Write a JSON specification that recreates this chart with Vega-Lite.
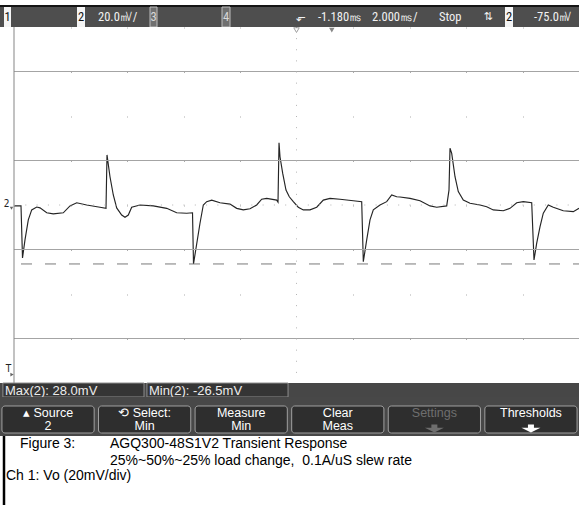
{
  "$schema": "https://vega.github.io/schema/vega-lite/v6.json",
  "padding": {"top": 5, "left": 0, "right": 0, "bottom": 0},
  "background": "white",
  "spacing": 0,
  "bounds": "flush",
  "config": {"view": {"stroke": null}, "concat": {"spacing": 0}},
  "vconcat": [
    {
      "width": 579, "height": 2,
      "data": {"values": [{"part": "screen border"}]},
      "mark": {"type": "rect", "color": "#151515"}
    },
    {
      "width": 579, "height": 20,
      "view": {"fill": "#4e4e4e"},
      "data": {"values": [{"ch1": "1", "ch2": "2", "ch2_scale": "20.0㎷/", "ch3": "3", "ch4": "4", "trig_icon": "⬐", "delay": "-1.180㎳", "timebase": "2.000㎳/", "mode": "Stop", "slope": "⇅", "trig_src": "2", "trig_level": "-75.0㎷"}]},
      "layer": [
        {"mark": {"type": "rect", "fill": "#f4f4f4"}, "encoding": {"x": {"datum": 4, "type": "quantitative", "scale": {"domain": [0, 579], "nice": false, "zero": false}, "axis": null}, "x2": {"datum": 11}}},
        {"mark": {"type": "text", "color": "#111111", "fontSize": 12.5, "font": "Liberation Sans Narrow, Roboto Condensed, DejaVu Sans Condensed, Arial Narrow, sans-serif", "baseline": "middle"}, "encoding": {"x": {"datum": 7.5}, "text": {"field": "ch1"}}},
        {"mark": {"type": "rect", "fill": "#f4f4f4"}, "encoding": {"x": {"datum": 77}, "x2": {"datum": 85}}},
        {"mark": {"type": "text", "color": "#111111", "fontSize": 12.5, "font": "Liberation Sans Narrow, Roboto Condensed, DejaVu Sans Condensed, Arial Narrow, sans-serif", "baseline": "middle"}, "encoding": {"x": {"datum": 81}, "text": {"field": "ch2"}}},
        {"mark": {"type": "text", "color": "#f2f2f2", "fontSize": 12.5, "align": "left", "font": "Liberation Sans Narrow, Roboto Condensed, DejaVu Sans Condensed, Arial Narrow, sans-serif", "baseline": "middle"}, "encoding": {"x": {"datum": 98}, "text": {"field": "ch2_scale"}}},
        {"mark": {"type": "rect", "fill": "#707070", "stroke": "#bdbdbd", "strokeWidth": 1}, "encoding": {"x": {"datum": 150}, "x2": {"datum": 157}}},
        {"mark": {"type": "text", "color": "#d8d8d8", "fontSize": 12.5, "font": "Liberation Sans Narrow, Roboto Condensed, DejaVu Sans Condensed, Arial Narrow, sans-serif", "baseline": "middle"}, "encoding": {"x": {"datum": 153.5}, "text": {"field": "ch3"}}},
        {"mark": {"type": "rect", "fill": "#707070", "stroke": "#bdbdbd", "strokeWidth": 1}, "encoding": {"x": {"datum": 222}, "x2": {"datum": 230}}},
        {"mark": {"type": "text", "color": "#d8d8d8", "fontSize": 12.5, "font": "Liberation Sans Narrow, Roboto Condensed, DejaVu Sans Condensed, Arial Narrow, sans-serif", "baseline": "middle"}, "encoding": {"x": {"datum": 226}, "text": {"field": "ch4"}}},
        {"mark": {"type": "text", "color": "#f2f2f2", "fontSize": 12, "font": "DejaVu Sans, sans-serif", "baseline": "middle"}, "encoding": {"x": {"datum": 301}, "text": {"field": "trig_icon"}}},
        {"mark": {"type": "text", "color": "#f2f2f2", "fontSize": 12.5, "align": "left", "font": "Liberation Sans Narrow, Roboto Condensed, DejaVu Sans Condensed, Arial Narrow, sans-serif", "baseline": "middle"}, "encoding": {"x": {"datum": 318}, "text": {"field": "delay"}}},
        {"mark": {"type": "text", "color": "#f2f2f2", "fontSize": 12.5, "align": "left", "font": "Liberation Sans Narrow, Roboto Condensed, DejaVu Sans Condensed, Arial Narrow, sans-serif", "baseline": "middle"}, "encoding": {"x": {"datum": 372}, "text": {"field": "timebase"}}},
        {"mark": {"type": "text", "color": "#f2f2f2", "fontSize": 12.5, "align": "left", "font": "Liberation Sans Narrow, Roboto Condensed, DejaVu Sans Condensed, Arial Narrow, sans-serif", "baseline": "middle"}, "encoding": {"x": {"datum": 439}, "text": {"field": "mode"}}},
        {"mark": {"type": "text", "color": "#f2f2f2", "fontSize": 11, "font": "DejaVu Sans, sans-serif", "baseline": "middle"}, "encoding": {"x": {"datum": 488}, "text": {"field": "slope"}}},
        {"mark": {"type": "rect", "fill": "#f4f4f4"}, "encoding": {"x": {"datum": 505}, "x2": {"datum": 513}}},
        {"mark": {"type": "text", "color": "#111111", "fontSize": 12.5, "font": "Liberation Sans Narrow, Roboto Condensed, DejaVu Sans Condensed, Arial Narrow, sans-serif", "baseline": "middle"}, "encoding": {"x": {"datum": 509}, "text": {"field": "trig_src"}}},
        {"mark": {"type": "text", "color": "#f2f2f2", "fontSize": 12.5, "align": "left", "font": "Liberation Sans Narrow, Roboto Condensed, DejaVu Sans Condensed, Arial Narrow, sans-serif", "baseline": "middle"}, "encoding": {"x": {"datum": 534}, "text": {"field": "trig_level"}}}
      ]
    },
    {
      "width": 579, "height": 356,
      "view": {"fill": "white"},
      "layer": [
        {
          "data": {"values": [
            {"time_ms": -10, "vo_mV": -0.4}, {"time_ms": -9.752, "vo_mV": -0.4}, {"time_ms": -9.699, "vo_mV": -23.8}, {"time_ms": -9.611, "vo_mV": -15.7},
            {"time_ms": -9.494, "vo_mV": -6.7}, {"time_ms": -9.373, "vo_mV": -2.2}, {"time_ms": -9.196, "vo_mV": -0.9}, {"time_ms": -9.08, "vo_mV": -1.3},
            {"time_ms": -8.842, "vo_mV": -3.5}, {"time_ms": -8.609, "vo_mV": -4.0}, {"time_ms": -8.255, "vo_mV": -3.5}, {"time_ms": -8.018, "vo_mV": -0.4},
            {"time_ms": -7.781, "vo_mV": 1.0}, {"time_ms": -7.427, "vo_mV": 0}, {"time_ms": -6.956, "vo_mV": -1.0}, {"time_ms": -6.743, "vo_mV": -1.5},
            {"time_ms": -6.708, "vo_mV": 22.5}, {"time_ms": -6.602, "vo_mV": 12.7}, {"time_ms": -6.485, "vo_mV": 4.5}, {"time_ms": -6.365, "vo_mV": -1.3},
            {"time_ms": -6.188, "vo_mV": -4.5}, {"time_ms": -6.071, "vo_mV": -5.5}, {"time_ms": -5.954, "vo_mV": -4.5}, {"time_ms": -5.834, "vo_mV": -1.0},
            {"time_ms": -5.54, "vo_mV": 0}, {"time_ms": -5.069, "vo_mV": -0.4}, {"time_ms": -4.595, "vo_mV": -1.5}, {"time_ms": -4.241, "vo_mV": -3.5},
            {"time_ms": -3.887, "vo_mV": -3.7}, {"time_ms": -3.681, "vo_mV": -3.5}, {"time_ms": -3.646, "vo_mV": -26.5}, {"time_ms": -3.416, "vo_mV": -8.2},
            {"time_ms": -3.299, "vo_mV": 0}, {"time_ms": -3.179, "vo_mV": 1.5}, {"time_ms": -3.002, "vo_mV": 2.2}, {"time_ms": -2.708, "vo_mV": 1.0},
            {"time_ms": -2.354, "vo_mV": 0.4}, {"time_ms": -2.117, "vo_mV": -1.5}, {"time_ms": -1.883, "vo_mV": -2.2}, {"time_ms": -1.646, "vo_mV": -1.7},
            {"time_ms": -1.409, "vo_mV": 0}, {"time_ms": -1.232, "vo_mV": 2.6}, {"time_ms": -1.055, "vo_mV": 3.0}, {"time_ms": -0.701, "vo_mV": 2.2},
            {"time_ms": -0.655, "vo_mV": 1.3}, {"time_ms": -0.619, "vo_mV": 28.0}, {"time_ms": -0.584, "vo_mV": 21.7}, {"time_ms": -0.488, "vo_mV": 14.2},
            {"time_ms": -0.372, "vo_mV": 6.7}, {"time_ms": -0.255, "vo_mV": 3.7}, {"time_ms": -0.113, "vo_mV": 1.5}, {"time_ms": 0.064, "vo_mV": -1.0},
            {"time_ms": 0.241, "vo_mV": -2.2}, {"time_ms": 0.478, "vo_mV": -2.2}, {"time_ms": 0.715, "vo_mV": -1.0}, {"time_ms": 0.949, "vo_mV": 2.2},
            {"time_ms": 1.186, "vo_mV": 3.0}, {"time_ms": 1.54, "vo_mV": 2.6}, {"time_ms": 2.011, "vo_mV": 1.9}, {"time_ms": 2.308, "vo_mV": 1.5},
            {"time_ms": 2.365, "vo_mV": -25.5}, {"time_ms": 2.485, "vo_mV": -15.7}, {"time_ms": 2.602, "vo_mV": -6.7}, {"time_ms": 2.719, "vo_mV": -2.2},
            {"time_ms": 2.956, "vo_mV": 0}, {"time_ms": 3.193, "vo_mV": 1.5}, {"time_ms": 3.37, "vo_mV": 4.5}, {"time_ms": 3.547, "vo_mV": 3.7},
            {"time_ms": 3.664, "vo_mV": 3.6}, {"time_ms": 4.018, "vo_mV": 3.0}, {"time_ms": 4.372, "vo_mV": 1.9}, {"time_ms": 4.726, "vo_mV": -0.4},
            {"time_ms": 4.963, "vo_mV": -1.0}, {"time_ms": 5.317, "vo_mV": -0.4}, {"time_ms": 5.398, "vo_mV": 6.7}, {"time_ms": 5.434, "vo_mV": 25.5},
            {"time_ms": 5.494, "vo_mV": 23.2}, {"time_ms": 5.611, "vo_mV": 12.7}, {"time_ms": 5.727, "vo_mV": 6.0}, {"time_ms": 5.904, "vo_mV": 2.2},
            {"time_ms": 6.142, "vo_mV": 0.8}, {"time_ms": 6.496, "vo_mV": 0}, {"time_ms": 6.733, "vo_mV": -0.8}, {"time_ms": 6.966, "vo_mV": -2.2},
            {"time_ms": 7.32, "vo_mV": -2.6}, {"time_ms": 7.558, "vo_mV": -1.5}, {"time_ms": 7.795, "vo_mV": 1.0}, {"time_ms": 8.028, "vo_mV": 1.5},
            {"time_ms": 8.326, "vo_mV": 1.0}, {"time_ms": 8.407, "vo_mV": -24.7}, {"time_ms": 8.503, "vo_mV": -17.1}, {"time_ms": 8.619, "vo_mV": -9.8},
            {"time_ms": 8.736, "vo_mV": -3.7}, {"time_ms": 8.913, "vo_mV": 0}, {"time_ms": 9.09, "vo_mV": -1.0}, {"time_ms": 9.444, "vo_mV": -2.6},
            {"time_ms": 9.798, "vo_mV": -3.0}, {"time_ms": 10, "vo_mV": -1.5}
          ]},
          "mark": {"type": "line", "color": "#242424", "strokeWidth": 1.15},
          "encoding": {
            "x": {"field": "time_ms", "type": "quantitative", "scale": {"domain": [-10.4956, 10], "nice": false, "zero": false}, "axis": {"values": [-8, -6, -4, -2, 2, 4, 6, 8], "title": null, "labels": false, "ticks": false, "domain": false, "grid": true, "gridColor": "#acacac", "gridDash": [1, 43.5]}},
            "y": {"field": "vo_mV", "type": "quantitative", "scale": {"domain": [-80, 80], "nice": false, "zero": false}, "axis": null}
          }
        },
        {"data": {"values": [{"graticule_mV": 60}, {"graticule_mV": 20}, {"graticule_mV": -20}, {"graticule_mV": -60}]}, "mark": {"type": "rule", "color": "#a4a4a4", "strokeWidth": 1}, "encoding": {"y": {"field": "graticule_mV", "type": "quantitative"}, "x": {"datum": -10}, "x2": {"datum": 10}}},
        {"data": {"values": [{"line": "left edge"}]}, "mark": {"type": "rule", "color": "#858585", "strokeWidth": 1}, "encoding": {"x": {"datum": -10}}},
        {"data": {"values": [{"line": "time reference"}]}, "mark": {"type": "rule", "color": "#b4b4b4", "strokeDash": [1, 10.125]}, "encoding": {"x": {"datum": 0}}},
        {"data": {"values": [{"line": "ground reference"}]}, "mark": {"type": "rule", "color": "#b4b4b4", "strokeDash": [1, 10.3]}, "encoding": {"y": {"datum": 0}, "x": {"datum": -10}, "x2": {"datum": 10}}},
        {"data": {"values": [{"measurement": "Min(2)", "mV": -26.5}]}, "mark": {"type": "rule", "color": "#7a7a7a", "strokeDash": [11, 13], "strokeDashOffset": 17}, "encoding": {"y": {"field": "mV", "type": "quantitative"}, "x": {"datum": -10}, "x2": {"datum": 10}}},
        {"data": {"values": [{"marker": "time reference"}]}, "mark": {"type": "point", "shape": "triangle-down", "filled": false, "size": 30, "color": "#777777", "strokeWidth": 1}, "encoding": {"x": {"datum": 0}, "y": {"datum": 78.6}}},
        {"data": {"values": [{"marker": "delay"}]}, "mark": {"type": "point", "shape": "triangle-down", "filled": true, "size": 30, "color": "#555555"}, "encoding": {"x": {"datum": 1.25}, "y": {"datum": 78.6}}},
        {"data": {"values": [{"marker": "ground", "label": "2"}]}, "mark": {"type": "text", "fontSize": 10, "color": "#222222", "baseline": "middle", "font": "Liberation Sans Narrow, DejaVu Sans Condensed, sans-serif"}, "encoding": {"x": {"datum": -10.265}, "y": {"datum": 0.5}, "text": {"field": "label"}}},
        {"data": {"values": [{"marker": "ground arrow"}]}, "mark": {"type": "point", "shape": "triangle-down", "filled": true, "size": 12, "color": "#222222"}, "encoding": {"x": {"datum": -10.088}, "y": {"datum": -1.5}}},
        {"data": {"values": [{"marker": "trigger level", "label": "T"}]}, "mark": {"type": "text", "fontSize": 10, "color": "#222222", "baseline": "middle", "font": "Liberation Sans Narrow, DejaVu Sans Condensed, sans-serif"}, "encoding": {"x": {"datum": -10.195}, "y": {"datum": -73.5}, "text": {"field": "label"}}},
        {"data": {"values": [{"marker": "trigger arrow"}]}, "mark": {"type": "point", "shape": "triangle-right", "filled": true, "size": 14, "color": "#222222"}, "encoding": {"x": {"datum": -10.071}, "y": {"datum": -76.2}}}
      ]
    },
    {
      "width": 579, "height": 14,
      "view": {"fill": "#474747"},
      "data": {"values": [{"slot": "Max", "readout": "Max(2): 28.0mV"}, {"slot": "Min", "readout": "Min(2): -26.5mV"}]},
      "encoding": {"x": {"field": "slot", "type": "nominal", "scale": {"domain": ["Max", "Min", "3", "4"], "paddingInner": 0.02, "paddingOuter": 0.02}, "axis": null}},
      "layer": [
        {"mark": {"type": "rect", "fill": "#353535", "stroke": "#8e8e8e", "strokeWidth": 1}},
        {"mark": {"type": "text", "align": "left", "dx": 2, "dy": 0.5, "baseline": "middle", "color": "#ececec", "fontSize": 13, "font": "Liberation Sans, Arial, sans-serif"}, "encoding": {"x": {"field": "slot", "type": "nominal", "bandPosition": 0}, "text": {"field": "readout"}}}
      ]
    },
    {
      "width": 579, "height": 39,
      "view": {"fill": "#484848"},
      "data": {"values": [
        {"button": "Source", "line1": "▴   Source", "line2": "2", "arrow": false, "enabled": true},
        {"button": "Select", "line1": "⟲ Select:", "line2": "Min", "arrow": false, "enabled": true},
        {"button": "Measure", "line1": "Measure", "line2": "Min", "arrow": false, "enabled": true},
        {"button": "Clear", "line1": "Clear", "line2": "Meas", "arrow": false, "enabled": true},
        {"button": "Settings", "line1": "Settings", "line2": "", "arrow": true, "enabled": false},
        {"button": "Thresholds", "line1": "Thresholds", "line2": "", "arrow": true, "enabled": true}
      ]},
      "encoding": {
        "x": {"field": "button", "type": "nominal", "sort": null, "scale": {"domain": ["Source", "Select", "Measure", "Clear", "Settings", "Thresholds"], "paddingInner": 0.045, "paddingOuter": 0.02}, "axis": null},
        "y": {"datum": "softkey", "type": "nominal", "scale": {"domain": ["softkey"], "paddingInner": 0, "paddingOuter": 0.2222, "align": 0.75}, "axis": null},
        "color": {"condition": {"test": "datum.enabled", "value": "#ffffff"}, "value": "#6e6e6e"}
      },
      "layer": [
        {"mark": {"type": "rect", "fill": "#2e2e2e", "stroke": "#a0a0a0", "strokeWidth": 1, "cornerRadius": 3}, "encoding": {"color": {"value": "#2e2e2e"}}},
        {"mark": {"type": "text", "fontSize": 12.5, "baseline": "middle", "dy": -6.5, "font": "Liberation Sans, Arial, sans-serif"}, "encoding": {"text": {"field": "line1"}}},
        {"mark": {"type": "text", "fontSize": 12.5, "baseline": "middle", "dy": 7, "font": "Liberation Sans, Arial, sans-serif"}, "encoding": {"text": {"field": "line2"}}},
        {"transform": [{"filter": "datum.arrow"}], "mark": {"type": "point", "filled": true, "opacity": 1, "size": 400, "strokeWidth": 0, "shape": "M-0.3,0.5 L0.3,0.5 L0.3,0.82 L0.95,0.82 L0,1.3 L-0.95,0.82 L-0.3,0.82 Z"}}
      ]
    },
    {
      "width": 579, "height": 69,
      "view": {"fill": "white"},
      "data": {"values": [{"figure": "Figure 3:", "title": "AGQ300-48S1V2 Transient Response", "subtitle": "25%~50%~25% load change,\u00a0 0.1A/uS slew rate", "channel": "Ch 1: Vo (20mV/div)"}]},
      "layer": [
        {"mark": {"type": "rule", "color": "#000000", "strokeWidth": 2.5}, "encoding": {"x": {"datum": 4, "type": "quantitative", "scale": {"domain": [0, 579], "nice": false, "zero": false}, "axis": null}}},
        {"mark": {"type": "text", "align": "left", "baseline": "alphabetic", "fontSize": 14, "color": "#000000", "font": "Liberation Sans, Arial, sans-serif"}, "encoding": {"x": {"datum": 20}, "y": {"datum": 12, "type": "quantitative", "scale": {"domain": [0, 69], "nice": false, "zero": false, "reverse": true}, "axis": null}, "text": {"field": "figure"}}},
        {"mark": {"type": "text", "align": "left", "baseline": "alphabetic", "fontSize": 14, "color": "#000000", "font": "Liberation Sans, Arial, sans-serif"}, "encoding": {"x": {"datum": 110}, "y": {"datum": 12}, "text": {"field": "title"}}},
        {"mark": {"type": "text", "align": "left", "baseline": "alphabetic", "fontSize": 14, "color": "#000000", "font": "Liberation Sans, Arial, sans-serif"}, "encoding": {"x": {"datum": 110}, "y": {"datum": 29}, "text": {"field": "subtitle"}}},
        {"mark": {"type": "text", "align": "left", "baseline": "alphabetic", "fontSize": 14, "color": "#000000", "font": "Liberation Sans, Arial, sans-serif"}, "encoding": {"x": {"datum": 6}, "y": {"datum": 44}, "text": {"field": "channel"}}}
      ]
    }
  ]
}
